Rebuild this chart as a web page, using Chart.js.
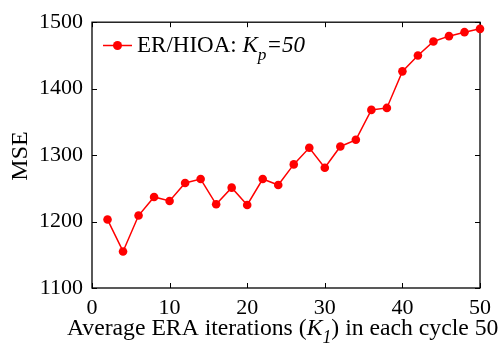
<!DOCTYPE html>
<html>
<head>
<meta charset="utf-8">
<script src="https://cdn.jsdelivr.net/npm/chart.js@4/dist/chart.umd.min.js"></script>
<style>
  html, body { margin: 0; padding: 0; background: #fff; }
  #wrap { width: 502px; height: 347px; }
</style>
</head>
<body>
<div id="wrap"><canvas id="c" width="502" height="347"></canvas></div>
<script>
// Average ERA iterations per cycle (K1) and the resulting MSE
const iterations = [2, 4, 6, 8, 10, 12, 14, 16, 18, 20, 22, 24, 26, 28, 30, 32, 34, 36, 38, 40, 42, 44, 46, 48, 50];
const mseValues  = [1203, 1155, 1209, 1237, 1231, 1258, 1264, 1226, 1251, 1225, 1264, 1255, 1286, 1311, 1281, 1313, 1323, 1368, 1371, 1426, 1450, 1471, 1479, 1485, 1490];
const xTicks = [0, 10, 20, 30, 40, 50];
const yTicks = [1100, 1200, 1300, 1400, 1500];

const SERIF = '"Liberation Serif", "Times New Roman", serif';
const RED = '#ff0000';

// Draws rich text pieces (normal / italic / subscript) left to right
function drawRuns(ctx, runs, x, y, size) {
  let cx = x;
  for (const r of runs) {
    const fs = r.sub ? size * 0.75 : size;
    ctx.font = (r.italic ? 'italic ' : '') + fs + 'px ' + SERIF;
    ctx.fillText(r.t, cx, y + (r.sub ? size * 0.33 : 0));
    cx += ctx.measureText(r.t).width;
  }
  return cx;
}

const frame = {
  id: 'frame',
  beforeDatasetsDraw(chart) {
    const { ctx, chartArea: a, scales } = chart;
    ctx.save();
    ctx.strokeStyle = '#000';
    ctx.lineWidth = 1.3;
    ctx.strokeRect(a.left, a.top, a.right - a.left, a.bottom - a.top);
    const L = 5;
    ctx.beginPath();
    for (const v of xTicks) {
      const px = Math.round(scales.x.getPixelForValue(v)) + 0.5;
      ctx.moveTo(px, a.bottom); ctx.lineTo(px, a.bottom - L);
      ctx.moveTo(px, a.top); ctx.lineTo(px, a.top + L);
    }
    for (const v of yTicks) {
      const py = Math.round(scales.y.getPixelForValue(v)) + 0.5;
      ctx.moveTo(a.left, py); ctx.lineTo(a.left + L, py);
      ctx.moveTo(a.right, py); ctx.lineTo(a.right - L, py);
    }
    ctx.lineWidth = 1;
    ctx.stroke();
    ctx.restore();
  },
  afterDraw(chart) {
    const { ctx } = chart;
    ctx.save();
    ctx.fillStyle = '#000';
    ctx.textBaseline = 'alphabetic';

    // y axis title
    ctx.save();
    ctx.translate(27, 156);
    ctx.rotate(-Math.PI / 2);
    ctx.textAlign = 'center';
    ctx.font = '24px ' + SERIF;
    ctx.fillText('MSE', 0, 0);
    ctx.restore();

    // x axis title
    ctx.textAlign = 'left';
    drawRuns(ctx, [
      { t: 'Average ERA iterations (' },
      { t: 'K', italic: true },
      { t: '1', italic: true, sub: true },
      { t: ') in each cycle 50' }
    ], 67, 335, 23.7);

    // legend
    const ly = 45.5;
    ctx.strokeStyle = RED;
    ctx.lineWidth = 1.5;
    ctx.beginPath();
    ctx.moveTo(103, ly); ctx.lineTo(132, ly);
    ctx.stroke();
    ctx.fillStyle = RED;
    ctx.beginPath();
    ctx.arc(117.5, ly, 4.5, 0, Math.PI * 2);
    ctx.fill();
    ctx.fillStyle = '#000';
    drawRuns(ctx, [
      { t: 'ER/HIOA: ' },
      { t: 'K', italic: true },
      { t: 'p', italic: true, sub: true },
      { t: '=50', italic: true }
    ], 137, 52, 23);
    ctx.restore();
  }
};

new Chart(document.getElementById('c'), {
  type: 'line',
  data: {
    datasets: [{
      data: iterations.map((x, i) => ({ x, y: mseValues[i] })),
      borderColor: RED,
      backgroundColor: RED,
      borderWidth: 1.5,
      pointRadius: 4.3,
      pointHoverRadius: 4.3,
      pointBackgroundColor: RED,
      pointBorderColor: RED,
      pointBorderWidth: 0,
      tension: 0,
      clip: false
    }]
  },
  options: {
    responsive: false,
    animation: false,
    devicePixelRatio: 1,
    layout: { padding: { left: 0, top: 17, right: 22, bottom: 0 } },
    plugins: { legend: { display: false }, tooltip: { enabled: false } },
    scales: {
      x: {
        type: 'linear',
        min: 0, max: 50,
        afterFit(s) { s.height = 59; },
        afterBuildTicks(s) { s.ticks = xTicks.map(v => ({ value: v })); },
        grid: { display: false, drawTicks: false },
        border: { display: false },
        ticks: { color: '#000', padding: 7, maxRotation: 0, font: { family: SERIF, size: 22 }, callback: v => String(v) }
      },
      y: {
        type: 'linear',
        min: 1100, max: 1500,
        afterFit(s) { s.width = 92; },
        afterBuildTicks(s) { s.ticks = yTicks.map(v => ({ value: v })); },
        grid: { display: false, drawTicks: false },
        border: { display: false },
        ticks: { color: '#000', padding: 9, font: { family: SERIF, size: 22 }, callback: v => String(v) }
      }
    }
  },
  plugins: [frame]
});
</script>
</body>
</html>
